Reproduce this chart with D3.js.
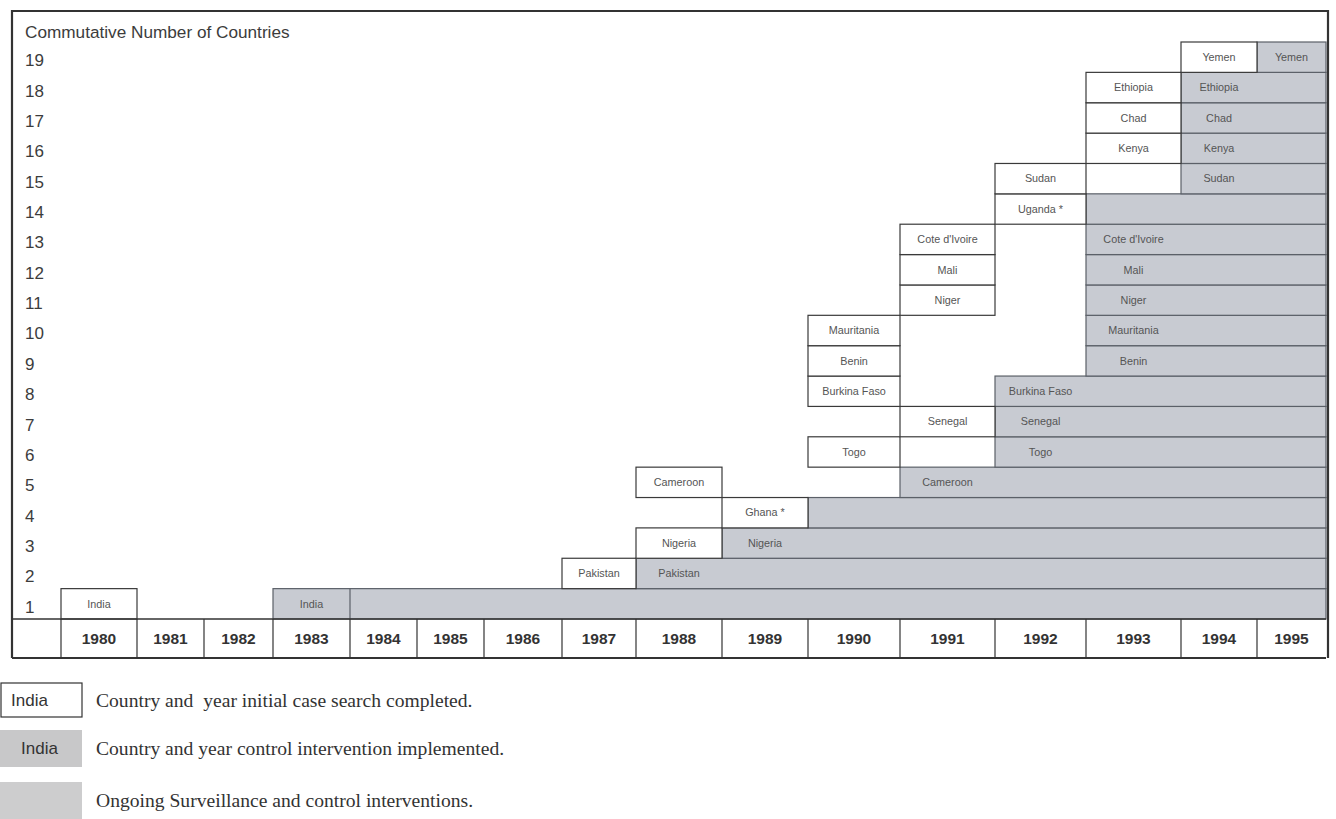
<!DOCTYPE html>
<html>
<head>
<meta charset="utf-8">
<script src="https://cdn.jsdelivr.net/npm/d3@7"></script>
<style>
  html, body { margin: 0; padding: 0; background: #ffffff; }
  svg { display: block; }
</style>
</head>
<body>
<div id="chart"></div>
<script>
// ---------------- DATA ----------------
const years = [1980, 1981, 1982, 1983, 1984, 1985, 1986, 1987, 1988, 1989, 1990, 1991, 1992, 1993, 1994, 1995];
const countries = ["India", "Pakistan", "Nigeria", "Ghana *", "Cameroon", "Togo", "Senegal", "Burkina Faso",
  "Benin", "Mauritania", "Niger", "Mali", "Cote d'Ivoire", "Uganda *", "Sudan", "Kenya", "Chad", "Ethiopia", "Yemen"];
const cumulativeNumber = [1, 2, 3, 4, 5, 6, 7, 8, 9, 10, 11, 12, 13, 14, 15, 16, 17, 18, 19];
const searchYear = [1980, 1987, 1988, 1989, 1988, 1990, 1991, 1990, 1990, 1990, 1991, 1991, 1991, 1992, 1992, 1993, 1993, 1993, 1994];
const controlYear = [1983, 1988, 1989, 1990, 1991, 1992, 1992, 1992, 1993, 1993, 1993, 1993, 1993, 1993, 1994, 1994, 1994, 1994, 1995];
const controlLabelled = [true, true, true, false, true, true, true, true, true, true, true, true, true, false, true, true, true, true, true];
const ongoingSeparated = ["India"];
const yTickLabels = ["1","2","3","4","5","6","7","8","9","10","11","12","13","14","15","16","17","18","19"];
const yAxisTitle = "Commutative Number of Countries";
const legendItems = [
  { box: "India", kind: "search", text: "Country and  year initial case search completed." },
  { box: "India", kind: "control", text: "Country and year control intervention implemented." },
  { box: "", kind: "ongoing", text: "Ongoing Surveillance and control interventions." }
];

// ---------------- LAYOUT ----------------
const W = 1336, H = 819;
const frameLeft = 12, frameTop = 11;
const firstColWidth = 49;
const yearColWidths = [76, 67, 69, 77, 67, 67, 78, 74, 86, 86, 92, 95, 91, 95, 76, 69];
const plotTop = 42, plotBottom = 619, yearRowBottom = 658;

const sans = "'Liberation Sans', Arial, Helvetica, sans-serif";
const serif = "'Liberation Serif', 'Times New Roman', serif";
const grayFill = "#c8cbd2";
const grayStroke = "#5b6068";
const boxStroke = "#3a3a3a";
const boxText = "#555";

// piecewise x scale: year -> left edge of year column
const edges = [frameLeft, frameLeft + firstColWidth];
yearColWidths.forEach(w => edges.push(edges[edges.length - 1] + w));
const xDomain = [years[0] - 1].concat(years, [years[years.length - 1] + 1]);
const x = d3.scaleLinear().domain(xDomain).range(edges);
const xEnd = x(years[years.length - 1] + 1);

const y = d3.scaleLinear().domain([0, cumulativeNumber.length]).range([plotBottom, plotTop]);

const svg = d3.select("#chart").append("svg").attr("width", W).attr("height", H);

const rows = countries.map((c, i) => ({
  name: c, n: cumulativeNumber[i], s: searchYear[i], c: controlYear[i], lab: controlLabelled[i]
}));

// ---------------- GRAY (control + ongoing) ----------------
const gGray = svg.append("g");
gGray.selectAll("rect").data(rows).join("rect")
  .attr("x", d => x(d.c))
  .attr("y", d => y(d.n))
  .attr("width", d => xEnd - x(d.c))
  .attr("height", d => y(d.n - 1) - y(d.n))
  .attr("fill", grayFill)
  .attr("stroke", grayStroke)
  .attr("stroke-width", 1.2);

gGray.selectAll("line.sep").data(rows.filter(d => ongoingSeparated.includes(d.name))).join("line")
  .attr("class", "sep")
  .attr("x1", d => x(d.c + 1)).attr("x2", d => x(d.c + 1))
  .attr("y1", d => y(d.n)).attr("y2", d => y(d.n - 1))
  .attr("stroke", grayStroke).attr("stroke-width", 1.2);

gGray.selectAll("text").data(rows.filter(d => d.lab)).join("text")
  .attr("x", d => (x(d.c) + x(d.c + 1)) / 2)
  .attr("y", d => (y(d.n) + y(d.n - 1)) / 2)
  .attr("dy", "0.35em")
  .attr("text-anchor", "middle")
  .attr("font-family", sans).attr("font-size", 10.8)
  .attr("fill", boxText)
  .text(d => d.name);

// ---------------- WHITE (search) boxes ----------------
const gWhite = svg.append("g");
gWhite.selectAll("rect").data(rows).join("rect")
  .attr("x", d => x(d.s))
  .attr("y", d => y(d.n))
  .attr("width", d => x(d.s + 1) - x(d.s))
  .attr("height", d => y(d.n - 1) - y(d.n))
  .attr("fill", "#ffffff")
  .attr("stroke", boxStroke)
  .attr("stroke-width", 1.2);

gWhite.selectAll("text").data(rows).join("text")
  .attr("x", d => (x(d.s) + x(d.s + 1)) / 2)
  .attr("y", d => (y(d.n) + y(d.n - 1)) / 2)
  .attr("dy", "0.35em")
  .attr("text-anchor", "middle")
  .attr("font-family", sans).attr("font-size", 10.8)
  .attr("fill", boxText)
  .text(d => d.name);

// ---------------- Y LABELS ----------------
svg.append("g").selectAll("text").data(yTickLabels).join("text")
  .attr("x", frameLeft + 13)
  .attr("y", (d, i) => (y(i + 1) + y(i)) / 2 + 3)
  .attr("dy", "0.35em")
  .attr("font-family", sans).attr("font-size", 17)
  .attr("fill", "#3c3c3c")
  .text(d => d);

svg.append("text")
  .attr("x", frameLeft + 13)
  .attr("y", 32)
  .attr("dy", "0.35em")
  .attr("font-family", sans).attr("font-size", 17.2)
  .attr("fill", "#3c3c3c")
  .text(yAxisTitle);

// ---------------- YEAR ROW ----------------
const gYear = svg.append("g");
gYear.append("line")
  .attr("x1", x(xDomain[0])).attr("x2", xEnd)
  .attr("y1", y(0)).attr("y2", y(0))
  .attr("stroke", "#333").attr("stroke-width", 1.5);
gYear.append("line")
  .attr("x1", x(xDomain[0])).attr("x2", xEnd)
  .attr("y1", yearRowBottom).attr("y2", yearRowBottom)
  .attr("stroke", "#333").attr("stroke-width", 2);
gYear.selectAll("line.v").data(years).join("line")
  .attr("class", "v")
  .attr("x1", d => x(d)).attr("x2", d => x(d))
  .attr("y1", y(0)).attr("y2", yearRowBottom)
  .attr("stroke", "#333").attr("stroke-width", 1.2);
gYear.selectAll("text").data(years).join("text")
  .attr("x", d => (x(d) + x(d + 1)) / 2)
  .attr("y", (y(0) + yearRowBottom) / 2)
  .attr("dy", "0.35em")
  .attr("text-anchor", "middle")
  .attr("font-family", sans).attr("font-size", 15.5).attr("font-weight", "bold")
  .attr("fill", "#333")
  .text(d => d);

// ---------------- FRAME ----------------
svg.append("path")
  .attr("d", `M${x(xDomain[0])},${yearRowBottom} V${frameTop} H${xEnd + 2} V${yearRowBottom}`)
  .attr("fill", "none")
  .attr("stroke", "#333")
  .attr("stroke-width", 2.2);

// ---------------- LEGEND ----------------
const legTop = [683, 730, 782];
const legH = [34, 37, 37];
const gLeg = svg.append("g");
legendItems.forEach((it, i) => {
  const g = gLeg.append("g");
  g.append("rect")
    .attr("x", it.kind === "search" ? 1 : 0)
    .attr("y", legTop[i])
    .attr("width", it.kind === "search" ? 81 : 82)
    .attr("height", legH[i])
    .attr("fill", it.kind === "search" ? "#fff" : (it.kind === "control" ? "#c8c8c9" : "#cdcdce"))
    .attr("stroke", it.kind === "search" ? "#333" : "none")
    .attr("stroke-width", 1.2);
  if (it.box) {
    g.append("text")
      .attr("x", it.kind === "search" ? 11 : 21)
      .attr("y", legTop[i] + legH[i] / 2)
      .attr("dy", "0.35em")
      .attr("font-family", sans).attr("font-size", 17)
      .attr("fill", "#333")
      .text(it.box);
  }
  g.append("text")
    .attr("x", 96)
    .attr("y", legTop[i] + legH[i] / 2)
    .attr("dy", "0.35em")
    .attr("font-family", serif).attr("font-size", 19.6)
    .attr("fill", "#333")
    .style("white-space", "pre")
    .text(it.text);
});
</script>
</body>
</html>
